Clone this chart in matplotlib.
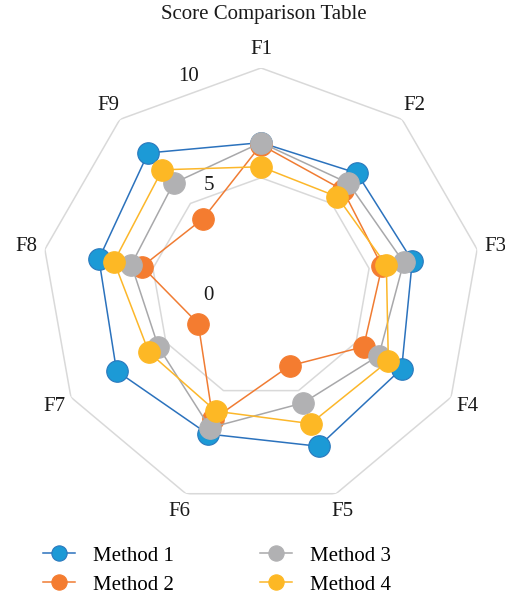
import numpy as np
import matplotlib
matplotlib.use('Agg')
import matplotlib.pyplot as plt
from matplotlib.lines import Line2D

# categories and scores
features = ['F1', 'F2', 'F3', 'F4', 'F5', 'F6', 'F7', 'F8', 'F9']
method1 = [6.6, 6.8, 7.0, 7.4, 7.7, 7.1, 7.6, 7.5, 8.0]
method2 = [6.5, 5.8, 5.6, 5.4, 3.8, 6.4, 3.3, 5.5, 4.1]
method3 = [6.6, 6.2, 6.6, 6.2, 5.6, 6.8, 5.4, 6.0, 6.2]
method4 = [5.5, 5.4, 5.8, 6.7, 6.6, 6.0, 5.9, 6.8, 7.0]
series_names = ['Method 1', 'Method 2', 'Method 3', 'Method 4']
ring_levels = [0, 5, 10]

plt.rcParams['font.family'] = ['Liberation Serif', 'DejaVu Serif']

line_colors = ['#2b72bd', '#f07c33', '#a8a8aa', '#fcb72a']
fill_colors = ['#1c9ad6', '#f47c30', '#b1b1b3', '#fdb825']
edge_colors = ['#2a78bd', '#f47c30', '#b1b1b3', '#fdb825']

fig = plt.figure(figsize=(5.06, 5.97), dpi=100)
ax = fig.add_axes([0.082, 0.1508, 0.8676, 0.7353], projection='polar')
ax.set_theta_zero_location('N')
ax.set_theta_direction(-1)

n = len(features)
angles = np.linspace(0, 2 * np.pi, n, endpoint=False)
closed = np.append(angles, angles[0])

# nonagon grid rings
for lvl in ring_levels[1:]:
    ax.plot(closed, [lvl] * (n + 1), color='#d9d9d9', lw=1.1, zorder=0)

all_data = [method1, method2, method3, method4]
for i, vals in enumerate(all_data):
    v = np.append(vals, vals[0])
    ax.plot(closed, v, color=line_colors[i], lw=1.1, zorder=2 + i)
    ax.plot(angles, vals, 'o', ms=15.5, color=fill_colors[i],
            mec=edge_colors[i], mew=0.8, zorder=2 + i, clip_on=False)

ax.set_ylim(0, 10)
ax.set_xticks([])
ax.set_yticks([])
ax.grid(False)
ax.spines['polar'].set_visible(False)

for a, lab in zip(angles, features):
    ax.text(a, 10.85, lab, ha='center', va='center', fontsize=15, color='#1a1a1a')

# radial value labels to the left of the top vertex of each ring
offsets = {0: (-37.5, -5.5), 5: (-37.5, -5.5), 10: (-52.5, -6)}
for lvl in ring_levels:
    ax.annotate(str(lvl), xy=(0, lvl), xytext=offsets[lvl], textcoords='offset points',
                ha='center', va='center', fontsize=15, color='#1a1a1a')

fig.text(264 / 506, 1 - 15 / 597, 'Score Comparison Table', ha='center', va='center',
         fontsize=15, color='#1a1a1a')

handles = [Line2D([0], [0], color=line_colors[i], lw=1.1, marker='o', ms=11,
                  mfc=fill_colors[i], mec=edge_colors[i], mew=0.8) for i in range(4)]
fig.legend(handles, series_names, ncol=2, loc='upper left',
           bbox_to_anchor=(43 / 506, 1 - 546 / 597), frameon=False, fontsize=15,
           handlelength=1.55, handletextpad=0.87, columnspacing=4.1, labelspacing=0.46,
           borderpad=0, borderaxespad=0)

fig.savefig('out.png', dpi=100)
